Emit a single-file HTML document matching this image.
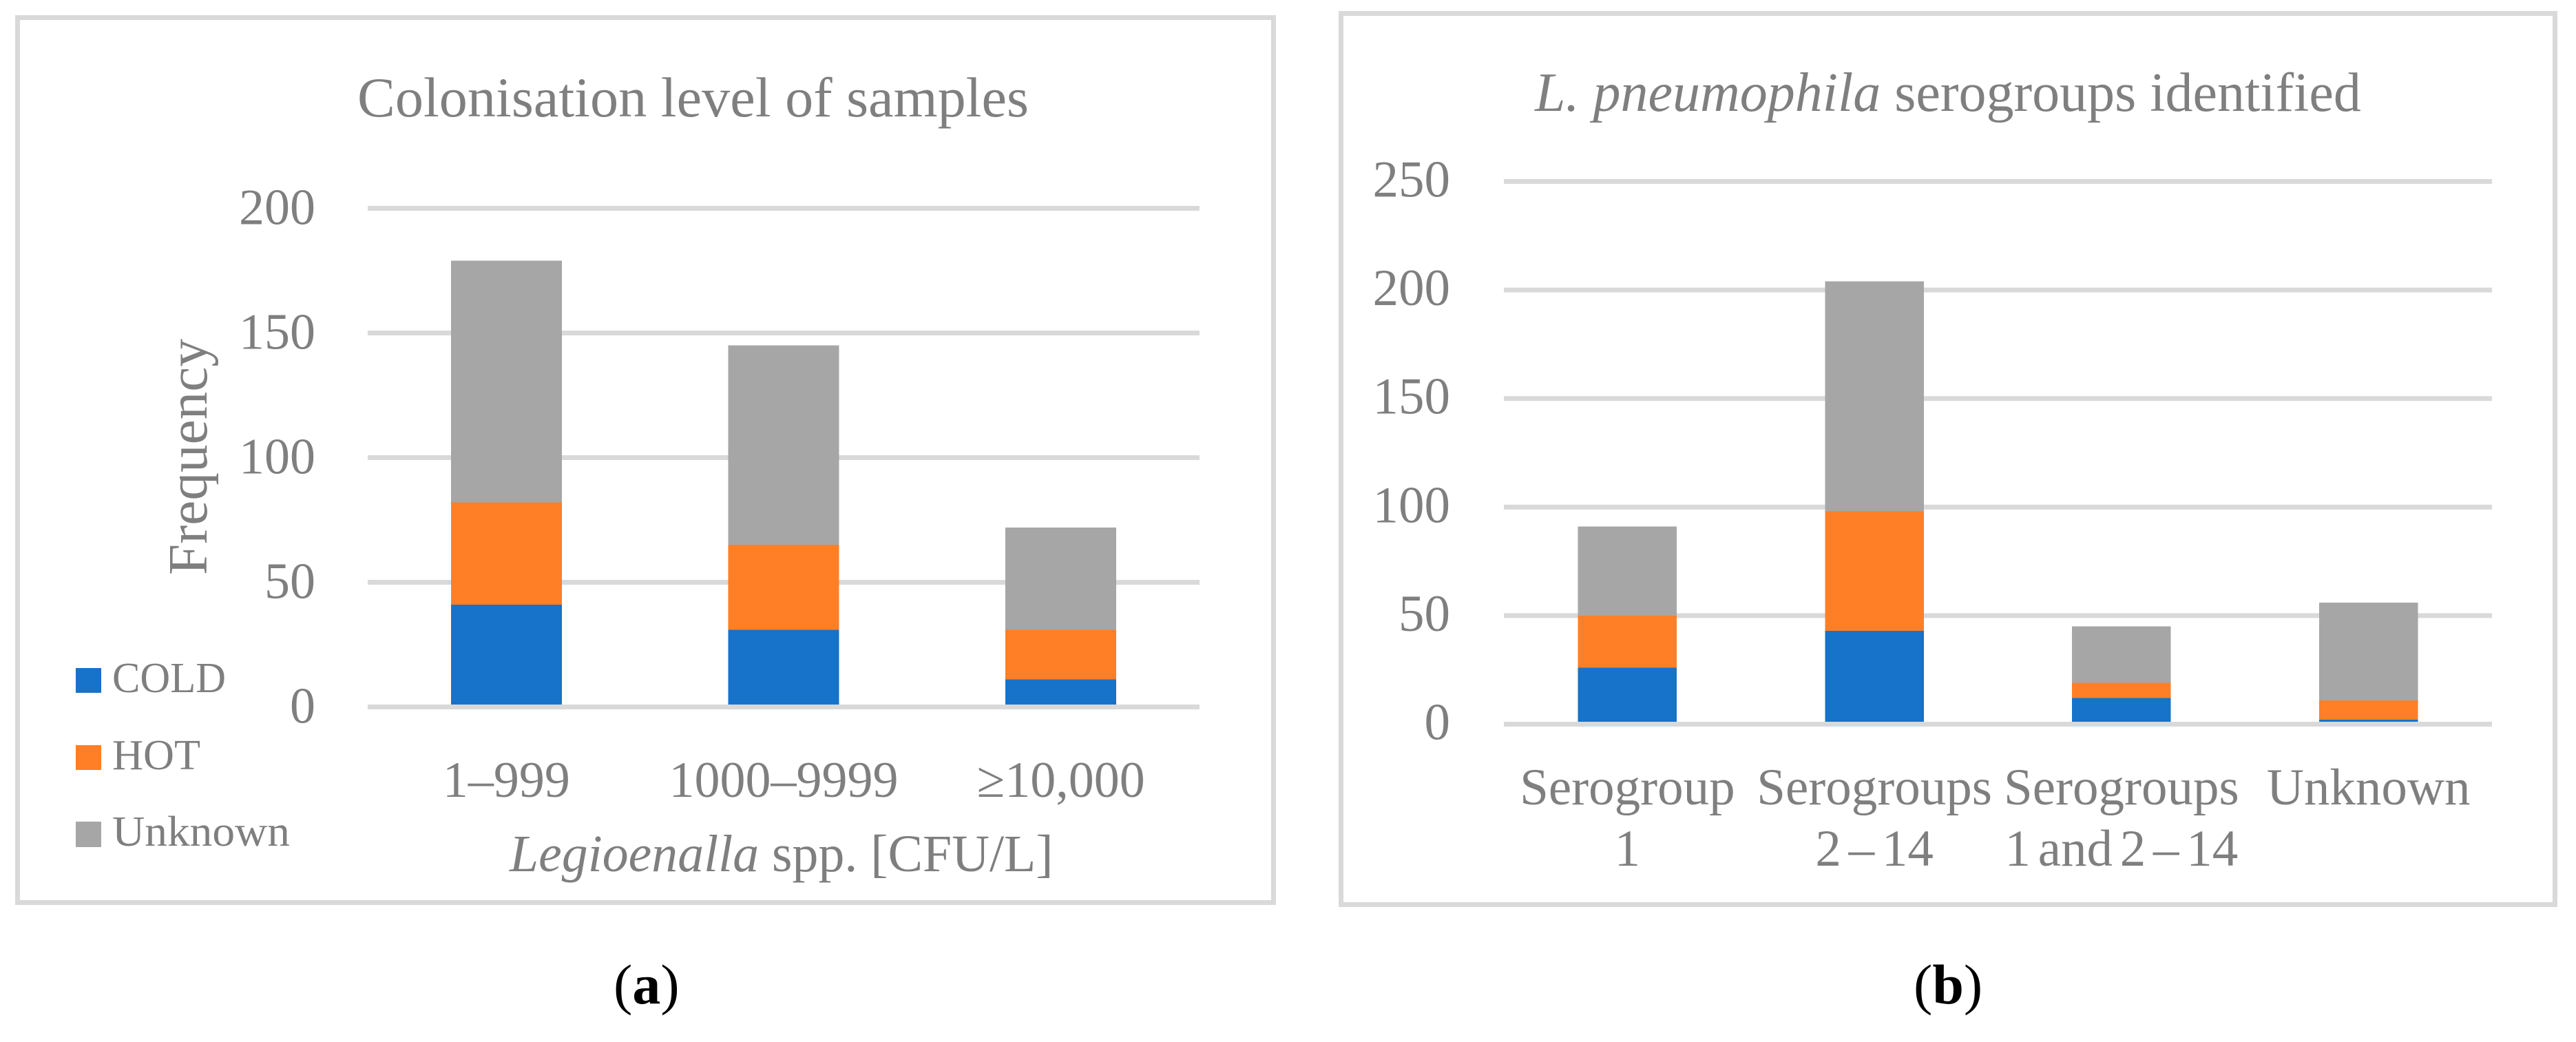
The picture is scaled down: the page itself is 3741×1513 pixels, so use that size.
<!DOCTYPE html>
<html lang="en">
<head>
<meta charset="utf-8">
<title>Legionella colonisation charts</title>
<style>
html,body{margin:0;padding:0;background:#fff;width:3741px;height:1513px;overflow:hidden}
svg{display:block}
text{font-family:"Liberation Serif",serif;fill:#7f7f7f}
</style>
</head>
<body>
<svg id="figure" xmlns="http://www.w3.org/2000/svg" width="3741" height="1513" viewBox="0 0 3741 1513">
  <rect x="0" y="0" width="3741" height="1513" fill="#ffffff"/>

  <g id="panel-a">
    <rect x="25.5" y="25.5" width="1824" height="1285" fill="none" stroke="#d9d9d9" stroke-width="7"/>
    <text x="519" y="169" font-size="82" textLength="975" lengthAdjust="spacingAndGlyphs">Colonisation level of samples</text>
    <text transform="translate(300,835) rotate(-90)" font-size="81" textLength="343" lengthAdjust="spacingAndGlyphs">Frequency</text>
    <text x="740" y="1265" font-size="75.8"><tspan font-style="italic">Legioenalla</tspan> spp. [CFU/L]</text>
    <g>
      <rect x="110" y="970" width="37" height="36" fill="#1772ca"/>
      <text x="163" y="1005" font-size="62" textLength="165" lengthAdjust="spacingAndGlyphs">COLD</text>
      <rect x="110" y="1082" width="37" height="36" fill="#ff7f27"/>
      <text x="163" y="1117" font-size="62" textLength="128" lengthAdjust="spacingAndGlyphs">HOT</text>
      <rect x="110" y="1193" width="37" height="37" fill="#a6a6a6"/>
      <text x="163" y="1228" font-size="62" textLength="258" lengthAdjust="spacingAndGlyphs">Unknown</text>
    </g>
    <g id="plot-a"></g>
  </g>

  <g id="panel-b">
    <rect x="1947.5" y="19.5" width="1763" height="1294" fill="none" stroke="#d9d9d9" stroke-width="7"/>
    <text x="2229" y="161" font-size="80"><tspan font-style="italic">L. pneumophila</tspan> serogroups identified</text>
    <g id="plot-b"></g>
  </g>

  <text x="891" y="1457" font-size="82" style="fill:#000">(<tspan font-weight="bold" style="fill:#000">a</tspan>)</text>
  <text x="2779" y="1457" font-size="82" style="fill:#000">(<tspan font-weight="bold" style="fill:#000">b</tspan>)</text>
</svg>

<script>
const categoriesA = [["1–999"], ["1000–9999"], ["≥10,000"]];
const coldA = [41, 31, 11];
const hotA = [41, 34, 20];
const unknownA = [97, 80, 41];
const ticksA = [0, 50, 100, 150, 200];

const categoriesB = [["Serogroup", "1"], ["Serogroups", "2 – 14"], ["Serogroups", "1 and 2 – 14"], ["Unknown"]];
const coldB = [26, 43, 12, 2];
const hotB = [24, 55, 7, 9];
const unknownB = [41, 106, 26, 45];
const ticksB = [0, 50, 100, 150, 200, 250];

const seriesColors = {cold: "#1772ca", hot: "#ff7f27", unknown: "#a6a6a6"};
const SVG_NS = "http://www.w3.org/2000/svg";

function gridLine(parent, yPos, x0, x1, value) {
  const line = document.createElementNS(SVG_NS, "rect");
  
  
  line.setAttribute("x", x0);
  line.setAttribute("y", yPos - 3.5);
  line.setAttribute("width", x1 - x0);
  line.setAttribute("height", 7);
  line.setAttribute("fill", "#d9d9d9");
  parent.appendChild(line);
}

function drawChart(target, categories, cold, hot, unknown, ticks, opt) {
  const parent = document.getElementById(target);
  const maxTick = ticks[ticks.length - 1];
  const yScale = v => opt.y0 + (opt.yTop - opt.y0) * v / maxTick;
  const band = (opt.x1 - opt.x0) / categories.length;
  const xCenter = i => opt.x0 + band * (i + 0.5);
  const barWidth = band * 0.4;

  ticks.forEach(t => {
    if (t !== 0) gridLine(parent, yScale(t), opt.x0, opt.x1, t);
    const label = document.createElementNS(SVG_NS, "text");
    
    
    label.setAttribute("x", opt.tickRight);
    label.setAttribute("y", yScale(t) + opt.tickDy);
    label.setAttribute("font-size", opt.tickSize);
    label.setAttribute("text-anchor", "end");
    label.textContent = t;
    parent.appendChild(label);
  });

  categories.forEach((lines, i) => {
    let base = 0;
    [["cold", cold[i]], ["hot", hot[i]], ["unknown", unknown[i]]].forEach(pair => {
      const bar = document.createElementNS(SVG_NS, "rect");
      
      
      bar.setAttribute("x", xCenter(i) - barWidth / 2);
      bar.setAttribute("y", yScale(base + pair[1]));
      bar.setAttribute("width", barWidth);
      bar.setAttribute("height", yScale(base) - yScale(base + pair[1]));
      bar.setAttribute("fill", seriesColors[pair[0]]);
      bar.setAttribute("shape-rendering", "crispEdges");
      parent.appendChild(bar);
      base += pair[1];
    });
    lines.forEach((txt, j) => {
      const label = document.createElementNS(SVG_NS, "text");
      
      
      label.setAttribute("x", xCenter(i));
      label.setAttribute("y", opt.labelY + j * opt.labelGap);
      label.setAttribute("font-size", opt.labelSize);
      label.setAttribute("text-anchor", "middle");
      label.setAttribute("word-spacing", opt.wordSpacing);
      label.textContent = txt;
      parent.appendChild(label);
    });
  });

  gridLine(parent, yScale(0), opt.x0, opt.x1, 0);
}

drawChart("plot-a", categoriesA, coldA, hotA, unknownA, ticksA, {
  x0: 534, x1: 1742, y0: 1026.5, yTop: 302.5,
  tickRight: 458, tickDy: 23, tickSize: 74,
  labelY: 1157, labelGap: 0, labelSize: 74, wordSpacing: 0
});
drawChart("plot-b", categoriesB, coldB, hotB, unknownB, ticksB, {
  x0: 2184, x1: 3619, y0: 1051.5, yTop: 263.5,
  tickRight: 2106, tickDy: 22, tickSize: 75,
  labelY: 1168, labelGap: 89, labelSize: 75, wordSpacing: -8
});
</script>
</body>
</html>
